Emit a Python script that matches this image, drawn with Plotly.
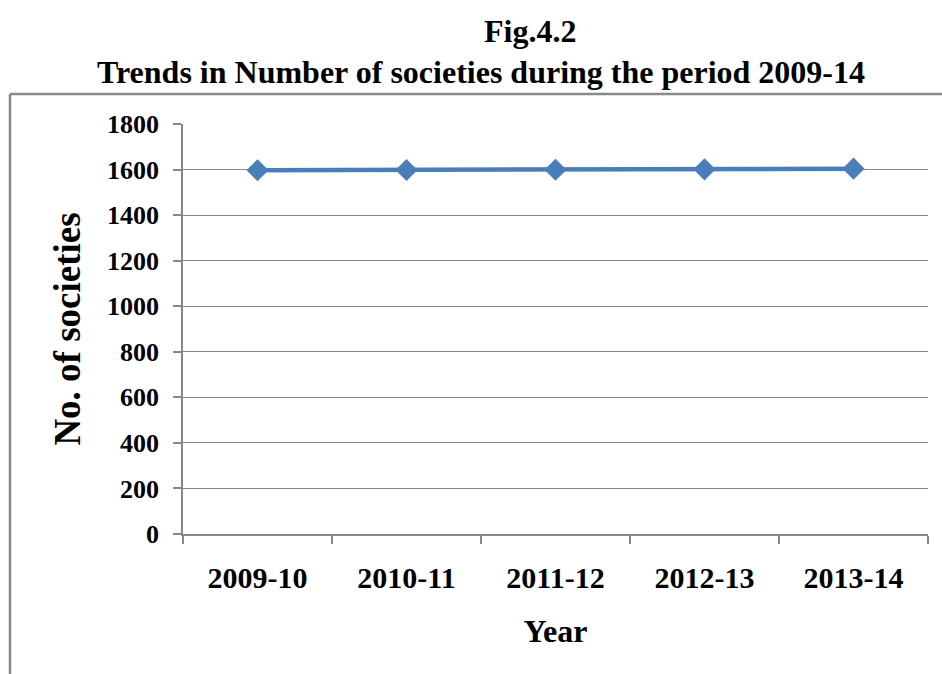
import plotly.graph_objects as go

years = ["2009-10", "2010-11", "2011-12", "2012-13", "2013-14"]
societies = [1597, 1598, 1599, 1601, 1604]
y_ticks = [0, 200, 400, 600, 800, 1000, 1200, 1400, 1600, 1800]

W, H = 942, 674
L, R, T, B = 183, 928, 124, 534  # plot area in px

def px(x):
    return (x - L) / (R - L)

def py(y):
    return (B - y) / (B - T)

FONT = "Liberation Serif"
GRAY = "#888888"

fig = go.Figure()
fig.add_trace(go.Scatter(
    x=years, y=societies, mode="lines+markers",
    line=dict(color="#4a7ebb", width=4.5),
    marker=dict(symbol="diamond", size=17, color="#4a7ebb"),
    showlegend=False,
))

fig.update_layout(
    width=W, height=H,
    margin=dict(l=L, r=W - R, t=T, b=H - B, pad=0),
    paper_bgcolor="white", plot_bgcolor="white",
    font=dict(family=FONT, color="black"),
    xaxis=dict(
        type="category", range=[-0.5, 4.5],
        showline=True, linecolor=GRAY, linewidth=1.5,
        ticks="outside", tickson="boundaries", ticklen=8, tickcolor=GRAY, tickwidth=1.5,
        tickfont=dict(family=FONT, size=30, color="black", weight="bold"),
        ticklabelstandoff=16,
        showgrid=False, zeroline=False,
        title=dict(text="<b>Year</b>", font=dict(family=FONT, size=32, color="black"), standoff=27),
    ),
    yaxis=dict(
        range=[0, 1800], tickvals=y_ticks,
        showline=True, linecolor=GRAY, linewidth=1.5,
        ticks="outside", ticklen=8, tickcolor=GRAY, tickwidth=1.5,
        tickfont=dict(family=FONT, size=26, color="black", weight="bold"),
        ticklabelstandoff=9,
        showgrid=True, gridcolor=GRAY, gridwidth=1.2,
        zeroline=False,
        title=dict(text="<b>No. of societies</b>", font=dict(family=FONT, size=37, color="black"), standoff=15),
    ),
)

# outer chart frame (left and top borders)
fig.add_shape(type="line", xref="paper", yref="paper",
              x0=px(10), y0=py(94), x1=px(W + 5), y1=py(94),
              line=dict(color=GRAY, width=2.5))
fig.add_shape(type="line", xref="paper", yref="paper",
              x0=px(10), y0=py(94), x1=px(10), y1=py(H + 5),
              line=dict(color=GRAY, width=2.5))

fig.add_annotation(text="<b>Fig.4.2</b>", xref="paper", yref="paper",
                   x=px(530), y=py(31), xanchor="center", yanchor="middle",
                   showarrow=False, font=dict(family=FONT, size=32, color="black"))
fig.add_annotation(text="<b>Trends in Number of societies during the period 2009-14</b>",
                   xref="paper", yref="paper",
                   x=px(481), y=py(72), xanchor="center", yanchor="middle",
                   showarrow=False, font=dict(family=FONT, size=32, color="black"))

fig.write_html("out.html")
